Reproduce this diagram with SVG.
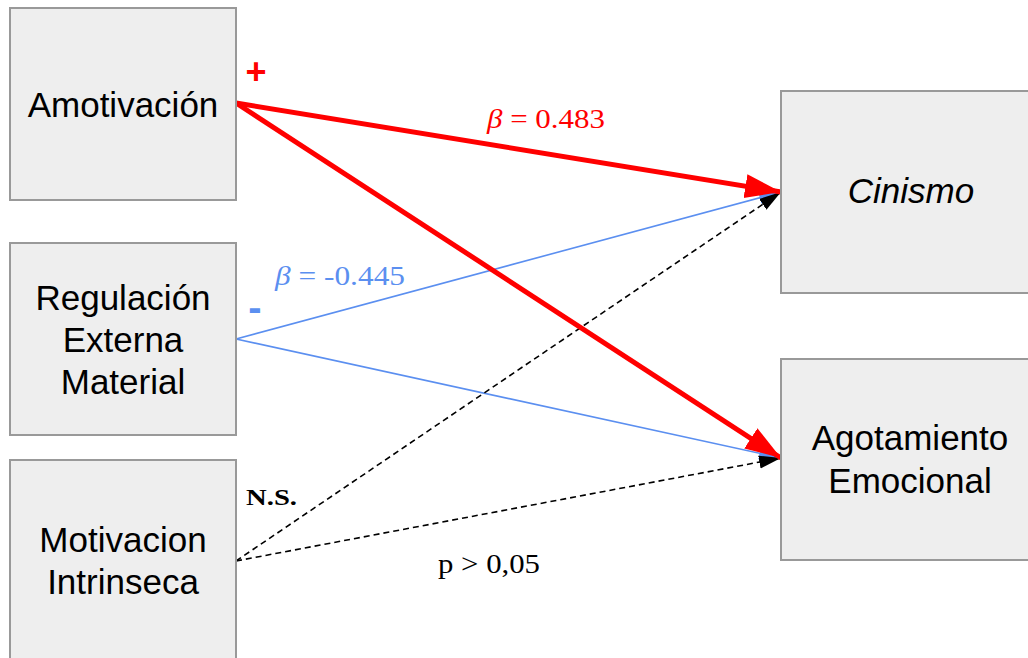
<svg xmlns="http://www.w3.org/2000/svg" width="1028" height="658" viewBox="0 0 1028 658">
<style>
.box{fill:#eeeeee;stroke:#999999;stroke-width:2}
.lbl{font-family:"Liberation Sans",Arial,sans-serif;font-size:35px;fill:#000;text-anchor:middle}
.red{stroke:#ff0000;stroke-width:5;fill:none}
.blue{stroke:#5b8ff0;stroke-width:1.6;fill:none}
.ns{stroke:#000;stroke-width:1.6;stroke-dasharray:6 4;fill:none}
.tm{font-family:"Liberation Serif","Times New Roman",serif}
</style>
<defs>
<marker id="ar" markerUnits="userSpaceOnUse" markerWidth="40" markerHeight="30" viewBox="0 0 40 30" refX="36" refY="15" orient="auto">
<path d="M0,3 L36,15 L0,27 Z" fill="#ff0000"/>
</marker>
<marker id="ab" markerUnits="userSpaceOnUse" markerWidth="24" markerHeight="16" viewBox="0 0 24 16" refX="22" refY="8" orient="auto">
<path d="M0,2 L22,8 L0,14 Z" fill="#5b8ff0"/>
</marker>
<marker id="ak" markerUnits="userSpaceOnUse" markerWidth="24" markerHeight="16" viewBox="0 0 24 16" refX="22" refY="8" orient="auto">
<path d="M0,1.5 L22,8 L0,14.5 Z" fill="#000"/>
</marker>
</defs>
<g id="connectors">
<line class="blue" x1="236" y1="339" x2="781" y2="192" marker-end="url(#ab)"/>
<line class="blue" x1="236" y1="339" x2="781" y2="458" marker-end="url(#ab)"/>
<line class="ns" x1="236" y1="561" x2="781" y2="192" marker-end="url(#ak)"/>
<line class="ns" x1="236" y1="561" x2="781" y2="458" marker-end="url(#ak)"/>
<line class="red" x1="236" y1="103" x2="781" y2="192" marker-end="url(#ar)"/>
<line class="red" x1="236" y1="103" x2="781" y2="458" marker-end="url(#ar)"/>
</g>
<g id="amotivacion">
<rect class="box" x="10" y="8" width="226" height="192"/>
<text class="lbl" x="123" y="117" font-size="33">Amotivación</text>
</g>
<g id="regulacion">
<rect class="box" x="10" y="243" width="226" height="192"/>
<text class="lbl" x="123" y="310">Regulación</text>
<text class="lbl" x="123" y="352">Externa</text>
<text class="lbl" x="123" y="394">Material</text>
</g>
<g id="motivacion">
<rect class="box" x="10" y="460" width="226" height="210"/>
<text class="lbl" x="123" y="552">Motivacion</text>
<text class="lbl" x="123" y="594">Intrinseca</text>
</g>
<g id="cinismo">
<rect class="box" x="781" y="91" width="260" height="202"/>
<text class="lbl" x="911" y="203" font-style="italic">Cinismo</text>
</g>
<g id="agotamiento">
<rect class="box" x="781" y="359" width="260" height="201"/>
<text class="lbl" x="910" y="450">Agotamiento</text>
<text class="lbl" x="910" y="493">Emocional</text>
</g>
<g id="labels">
<text x="256" y="84" font-family="Liberation Sans,Arial,sans-serif" font-size="36" font-weight="bold" fill="#ff0000" text-anchor="middle">+</text>
<text class="tm" x="487" y="128" font-size="28" fill="#ff0000" textLength="118" lengthAdjust="spacingAndGlyphs"><tspan font-style="italic">β</tspan> = 0.483</text>
<text x="255" y="321" font-family="Liberation Sans,Arial,sans-serif" font-size="40" font-weight="bold" fill="#5b8ff0" text-anchor="middle">-</text>
<text class="tm" x="275" y="285" font-size="28" fill="#5b8ff0" textLength="130" lengthAdjust="spacingAndGlyphs"><tspan font-style="italic">β</tspan> = -0.445</text>
<text class="tm" x="246" y="505" font-size="24" font-weight="bold" fill="#000" textLength="51" lengthAdjust="spacingAndGlyphs">N.S.</text>
<text class="tm" x="438" y="573" font-size="27" fill="#000" textLength="102" lengthAdjust="spacingAndGlyphs">p &gt; 0,05</text>
</g>
</svg>
